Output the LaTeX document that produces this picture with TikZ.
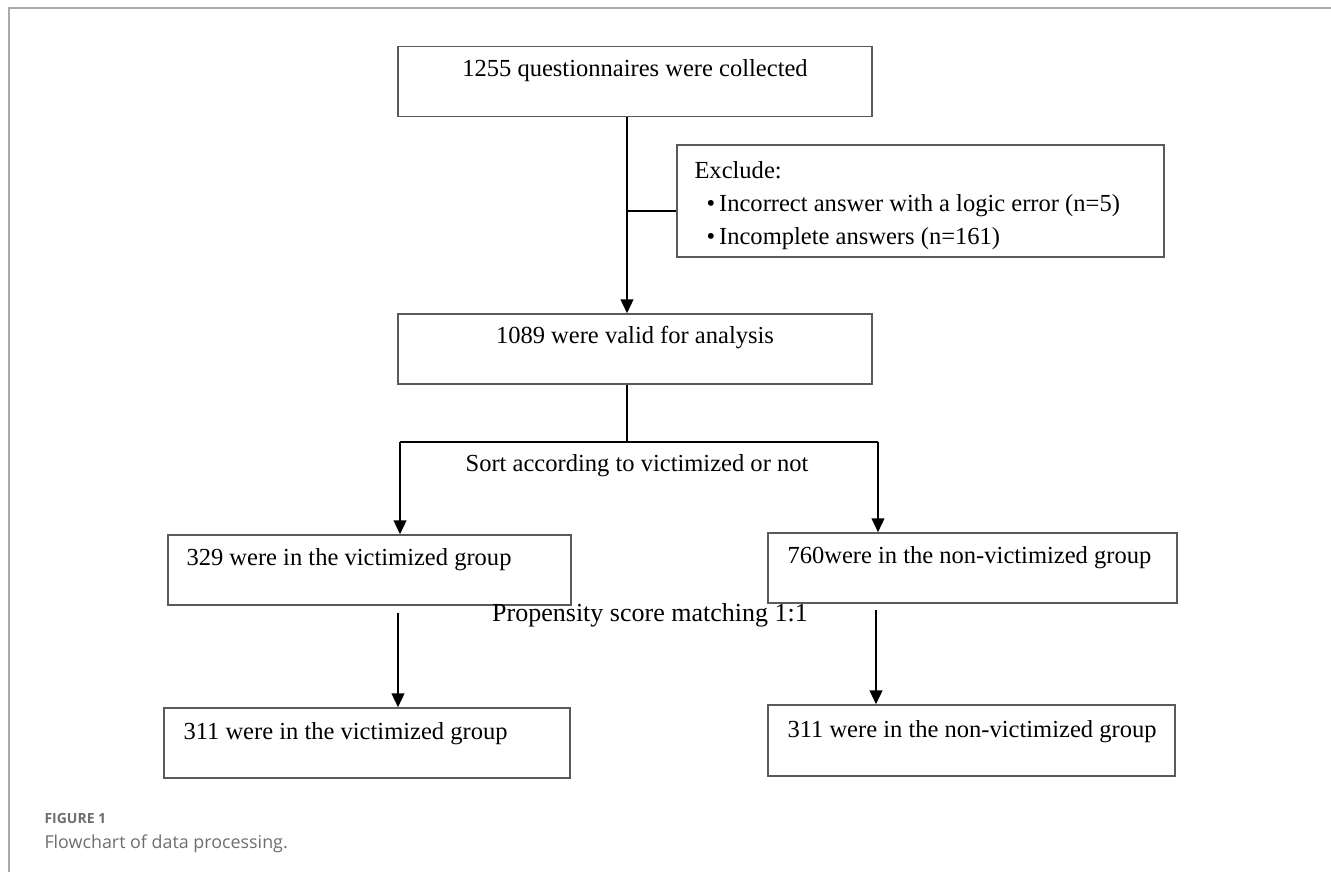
\documentclass[tikz,border=0pt]{standalone}
\usepackage{fontspec}
\setmainfont{Liberation Serif}
\newfontfamily\capfont{Open Sans}
\usetikzlibrary{arrows.meta}

\definecolor{boxgray}{RGB}{90,90,90}
\definecolor{framegray}{RGB}{170,170,170}
\definecolor{capgray}{RGB}{110,110,110}

\tikzset{every picture/.style={line width=0.75pt}}
\tikzset{
  box/.style={draw=boxgray, line width=1.1pt, rectangle, inner sep=0pt},
  txt/.style={font=\fontsize{18.4}{22}\selectfont, inner sep=0.75pt},
  conn/.style={line width=1.7pt},
  flow/.style={line width=1.7pt, -{Triangle[width=9.5pt,length=10.5pt]}},
}

\begin{document}
\begin{tikzpicture}[x=0.75pt,y=0.75pt,yscale=-1,xscale=1]
    \useasboundingbox (0,0) rectangle (1331,872);

    % frame
    \draw[framegray, line width=1.2pt] (1331,8) -- (9,8) -- (9,872);

    % Boxes
    \node[box, minimum width=474*0.75pt, minimum height=70*0.75pt] (coll) at (635,81.5) {};
    \node[box, minimum width=487*0.75pt, minimum height=112*0.75pt] (excl) at (920.5,201) {};
    \node[box, minimum width=474*0.75pt, minimum height=70*0.75pt] (valid) at (635,349) {};
    \node[box, minimum width=403*0.75pt, minimum height=70*0.75pt] (vicA) at (369.5,570) {};
    \node[box, minimum width=409*0.75pt, minimum height=70*0.75pt] (nonA) at (972.5,568) {};
    \node[box, minimum width=406*0.75pt, minimum height=70*0.75pt] (vicB) at (367,743) {};
    \node[box, minimum width=407*0.75pt, minimum height=71*0.75pt] (nonB) at (971.5,740.5) {};

    % Text Node
    \draw (635,71) node [txt] (tcoll) {1255 questionnaires were collected};
    % Text Node
    \draw (693,160) node [txt, anchor=north west, align=left, font=\fontsize{18.4}{24.6}\selectfont] (texcl) {Exclude:\\
      \hspace*{9pt}\textbullet\,Incorrect answer with a logic error (n=5)\\
      \hspace*{9pt}\textbullet\,Incomplete answers (n=161)};
    % Text Node
    \draw (635,338) node [txt] (tvalid) {1089 were valid for analysis};
    % Text Node
    \draw (637,466) node [txt] (tsort) {Sort according to victimized or not};
    % Text Node
    \draw (185,560) node [txt, anchor=west] (tvicA) {329 were in the victimized group};
    % Text Node
    \draw (786,558) node [txt, anchor=west] (tnonA) {760were in the non-victimized group};
    % Text Node
    \draw (650,615) node [txt, font=\fontsize{19.5}{22}\selectfont] (tmatch) {Propensity score matching 1:1};
    % Text Node
    \draw (182,734) node [txt, anchor=west] (tvicB) {311 were in the victimized group};
    % Text Node
    \draw (786,732) node [txt, anchor=west] (tnonB) {311 were in the non-victimized group};

    % Connectors
    \coordinate (trunk) at (627,211);
    \coordinate (sortL) at (400,442);
    \coordinate (sortR) at (878,442);
    \coordinate (matchL) at (398,613);
    \coordinate (matchR) at (876,610);

    \draw[flow] (coll.south -| trunk) -- (valid.north -| trunk);
    \draw[conn] (trunk) -- (trunk -| excl.west);
    \draw[conn] (valid.south -| trunk) -- (trunk |- sortL);
    \draw[conn] (sortL) -- (sortR);
    \draw[flow] (sortL) -- (sortL |- vicA.north);
    \draw[flow] (sortR) -- (sortR |- nonA.north);
    \draw[flow] (matchL) -- (matchL |- vicB.north);
    \draw[flow] (matchR) -- (matchR |- nonB.north);

    % Caption
    \draw (44,818) node [anchor=west, inner sep=0pt, text=capgray, font=\capfont\fontsize{10.5}{12}\selectfont\bfseries] (capnum) {FIGURE 1};
    \draw (44,844) node [anchor=west, inner sep=0pt, text=capgray, font=\capfont\fontsize{13.4}{15}\selectfont] (captext) {Flowchart of data processing.};
\end{tikzpicture}
\end{document}
